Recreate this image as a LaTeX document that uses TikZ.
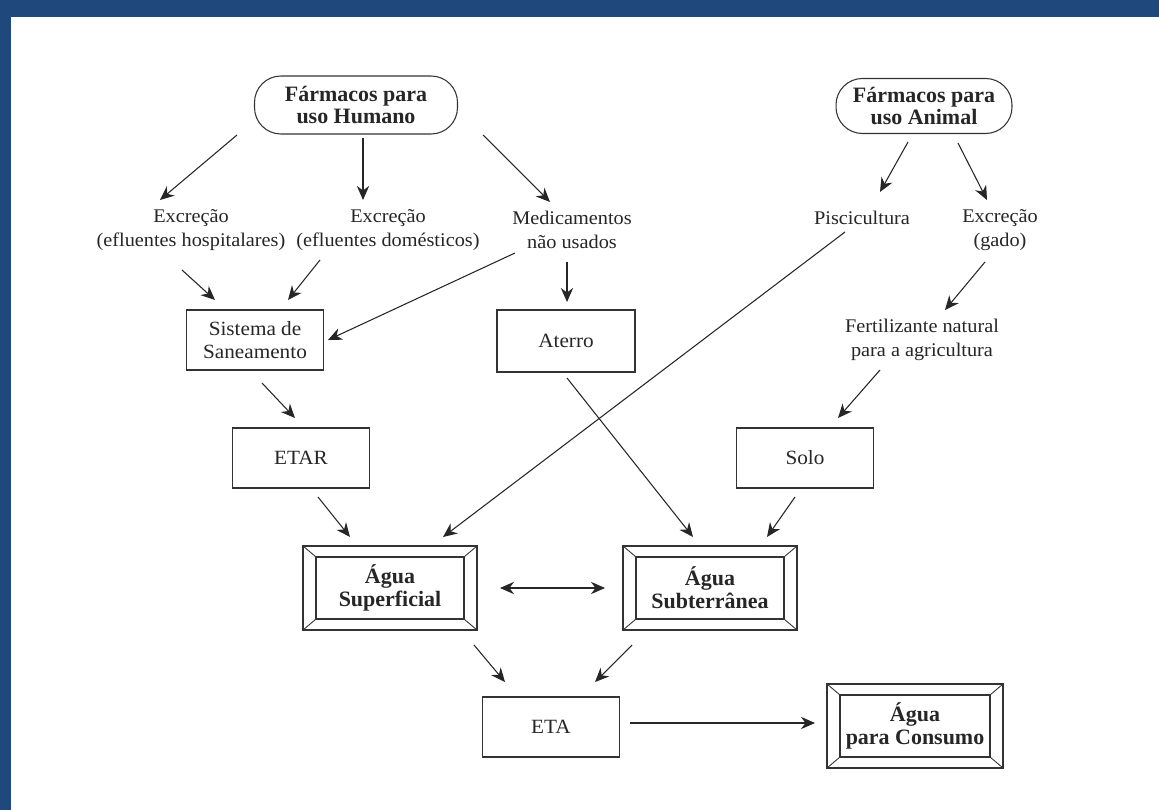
\documentclass[tikz,border=0pt]{standalone}
\usepackage{fontspec}
\setmainfont{Liberation Serif}
\newfontfamily\lblfont[FakeStretch=1.05]{Liberation Serif}
\usetikzlibrary{arrows.meta,calc,positioning}
\definecolor{frameblue}{RGB}{31,73,125}
\begin{document}
\begin{tikzpicture}[x=0.02cm,y=-0.02cm,
        every node/.style={align=center,text=black!85},
        lbl/.style={font=\lblfont\fontsize{11}{13.5}\selectfont},
        oval/.style={draw=black!80,line width=0.6pt,rounded corners=15pt,minimum height=1.16cm,
            font=\bfseries\fontsize{12.5}{12}\selectfont},
        box/.style={draw=black!80,line width=0.6pt,minimum width=2.74cm,minimum height=1.2cm,
            font=\lblfont\fontsize{11.5}{13.5}\selectfont},
        bevel/.style={draw=black!80,line width=0.8pt,minimum width=3.48cm,minimum height=1.68cm,
            font=\bfseries\fontsize{12.5}{13}\selectfont,
            path picture={
                \draw[black!80,line width=0.6pt]
                    ($(path picture bounding box.south west)+(0.26cm,0.22cm)$) rectangle
                    ($(path picture bounding box.north east)+(-0.26cm,-0.22cm)$);
                \draw[black!80,line width=0.5pt]
                    (path picture bounding box.south west) -- ++(0.26cm,0.22cm)
                    (path picture bounding box.south east) -- ++(-0.26cm,0.22cm)
                    (path picture bounding box.north west) -- ++(0.26cm,-0.22cm)
                    (path picture bounding box.north east) -- ++(-0.26cm,-0.22cm);
            }},
        arr/.style={-{Stealth[length=8pt,width=7pt]},line width=0.6pt,draw=black!85}]
    \useasboundingbox (0,0) rectangle (1159,810);
    \fill[white] (0,0) rectangle (1159,810);
    \fill[frameblue] (0,0) rectangle (1159,17);
    \fill[frameblue] (0,0) rectangle (11,810);

    \node[oval,minimum width=4.06cm] (hum) at (356,105) {Fármacos para\\uso Humano};
    \node[oval,minimum width=3.52cm,minimum height=1.1cm] (ani) at (924,106) {Fármacos para\\uso Animal};

    \node[lbl] (exh) at (191,230) {Excreção\\(efluentes hospitalares)};
    \node[lbl] (exd) at (388,230) {Excreção\\(efluentes domésticos)};
    \node[lbl] (med) at (572,230) {Medicamentos\\não usados};
    \node[lbl] (pisc) at (862,218) {Piscicultura};
    \node[lbl] (exg) at (1000,230) {Excreção\\(gado)};

    \node[box] (san) at (255,340) {Sistema de\\Saneamento};
    \node[box,minimum width=2.76cm,minimum height=1.24cm] (ate) at (566,341) {Aterro};
    \node[lbl] (fert) at (922,340) {Fertilizante natural\\para a agricultura};

    \node[box] (etar) at (301,458) {ETAR};
    \node[box] (solo) at (805,458) {Solo};

    \node[bevel] (sup) at (390,588) {Água\\Superficial};
    \node[bevel] (sub) at (710,588) {Água\\Subterrânea};

    \node[box] (eta) at (551,727) {ETA};
    \node[bevel,minimum width=3.52cm] (cons) at (915,726) {Água\\para Consumo};

    \draw[arr] ($(hum)+(-119,30)$) -- ($(exh)+(-31,-30)$);
    \draw[arr,line width=0.9pt] ($(hum)+(7,33)$) -- ($(exd)+(-25,-30)$);
    \draw[arr] ($(hum)+(127,30)$) -- ($(med)+(-22,-28)$);
    \draw[arr] ($(ani)+(-16,36)$) -- ($(pisc)+(18,-26)$);
    \draw[arr] ($(ani)+(34,37)$) -- ($(exg)+(-13,-30)$);

    \draw[arr] ($(exh)+(-9,40)$) -- ($(san)+(-40,-40)$);
    \draw[arr] ($(exd)+(-68,30)$) -- ($(san)+(33,-40)$);
    \draw[arr] ($(med)+(-57,23)$) -- ($(san)+(73,0)$);
    \draw[arr] ($(med)+(-5,32)$) -- ($(ate)+(1,-39)$);
    \draw[arr] ($(pisc)+(-17,14)$) -- ($(sup)+(53,-51)$);
    \draw[arr] ($(exg)+(-15,32)$) -- ($(fert)+(23,-30)$);

    \draw[arr] ($(san)+(7,43)$) -- ($(etar)+(-6,-40)$);
    \draw[arr] ($(ate)+(1,37)$) -- ($(sub)+(-17,-51)$);
    \draw[arr] ($(fert)+(-42,30)$) -- ($(solo)+(33,-40)$);

    \draw[arr] ($(etar)+(17,39)$) -- ($(sup)+(-40,-51)$);
    \draw[arr] ($(solo)+(-10,39)$) -- ($(sub)+(57,-51)$);
    \draw[arr,{Stealth[length=8pt,width=7pt]}-{Stealth[length=8pt,width=7pt]}] ($(sup)+(110,0)$) -- ($(sub)+(-105,0)$);

    \draw[arr] ($(sup)+(84,57)$) -- ($(eta)+(-46,-45)$);
    \draw[arr] ($(sub)+(-78,57)$) -- ($(eta)+(44,-45)$);
    \draw[arr] ($(eta)+(79,-4)$) -- ($(cons)+(-100,-3)$);
\end{tikzpicture}
\end{document}
